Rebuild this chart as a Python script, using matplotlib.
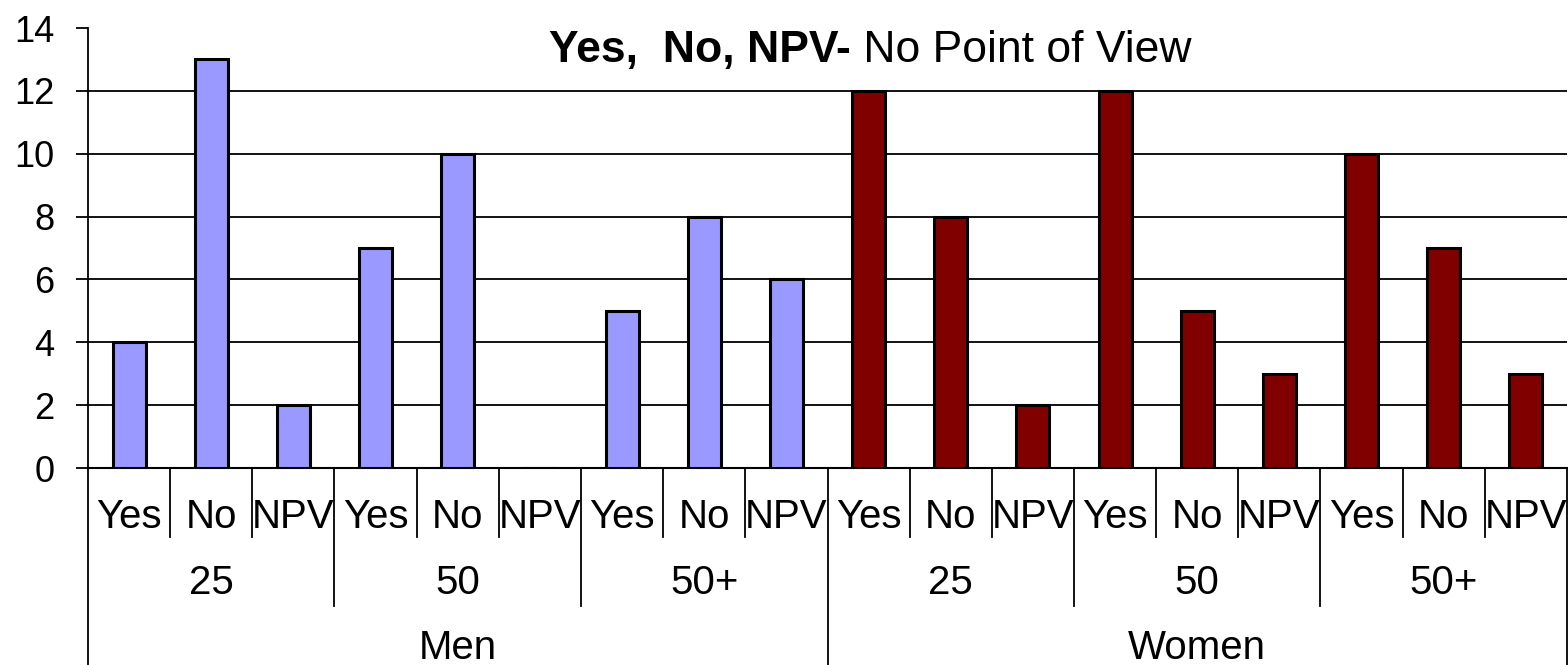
import matplotlib
matplotlib.use("Agg")
import matplotlib.pyplot as plt
import matplotlib.transforms as mtransforms
from matplotlib.lines import Line2D

plt.rcParams['font.family'] = ['Liberation Sans', 'DejaVu Sans']

# data
genders = ['Men', 'Women']
ages = ['25', '50', '50+']
answers = ['Yes', 'No', 'NPV']
men_values = [4, 13, 2, 7, 10, 0, 5, 8, 6]
women_values = [12, 8, 2, 12, 5, 3, 10, 7, 3]
colors = {'Men': '#9999FF', 'Women': '#800000'}

W, H = 1568, 665
fig = plt.figure(figsize=(W / 100, H / 100), dpi=100)
ax = fig.add_axes([88 / W, (H - 468) / H, (1567 - 88) / W, 440 / H])

values = men_values + women_values
bar_colors = [colors['Men']] * len(men_values) + [colors['Women']] * len(women_values)
x = list(range(len(values)))
ax.bar(x, values, width=0.4, color=bar_colors, edgecolor='black', linewidth=2.2, zorder=3)

ax.set_xlim(-0.5, len(values) - 0.5)
ax.set_ylim(0, 14)
ax.set_yticks(range(0, 15, 2))
ax.hlines(range(2, 14, 2), -0.5, len(values) - 0.5, color='black', linewidth=1.3, zorder=1)
ax.tick_params(axis='y', labelsize=26, length=9, width=1.3, pad=15, color='black')
ax.set_xticks([])
for s in ['top', 'right']:
    ax.spines[s].set_visible(False)
ax.spines['left'].set_linewidth(1.3)
ax.spines['bottom'].set_linewidth(1.5)

# title: bold part + normal part
t1 = fig.text(549 / W, 1 - 62 / H, 'Yes,  No, NPV-', fontsize=32, fontweight='bold', va='baseline', ha='left')
fig.canvas.draw()
bb = t1.get_window_extent()
fig.text(bb.x1 / W, 1 - 62 / H, ' No Point of View', fontsize=32, va='baseline', ha='left')

# multi-level category axis
tr = mtransforms.blended_transform_factory(ax.transData, fig.transFigure)
def fy(py):
    return 1 - py / H

n_ans = len(answers)
for i in range(len(values)):
    ax.text(i, fy(528), answers[i % n_ans], transform=tr, fontsize=29, ha='center', va='baseline')
for j in range(len(genders) * len(ages)):
    ax.text(j * n_ans + 1, fy(594), ages[j % len(ages)], transform=tr, fontsize=29, ha='center', va='baseline')
for k, g in enumerate(genders):
    ax.text(k * n_ans * len(ages) + (n_ans * len(ages) - 1) / 2, fy(659), g, transform=tr,
            fontsize=29, ha='center', va='baseline')

for i in range(len(values) + 1):
    b = i - 0.5
    if i % (n_ans * len(ages)) == 0:
        bottom = H
    elif i % n_ans == 0:
        bottom = 606
    else:
        bottom = 537
    ax.add_line(Line2D([b, b], [fy(468), fy(bottom)], transform=tr, color='black',
                       linewidth=1.3, clip_on=False))

fig.savefig('out.png', dpi=100)
